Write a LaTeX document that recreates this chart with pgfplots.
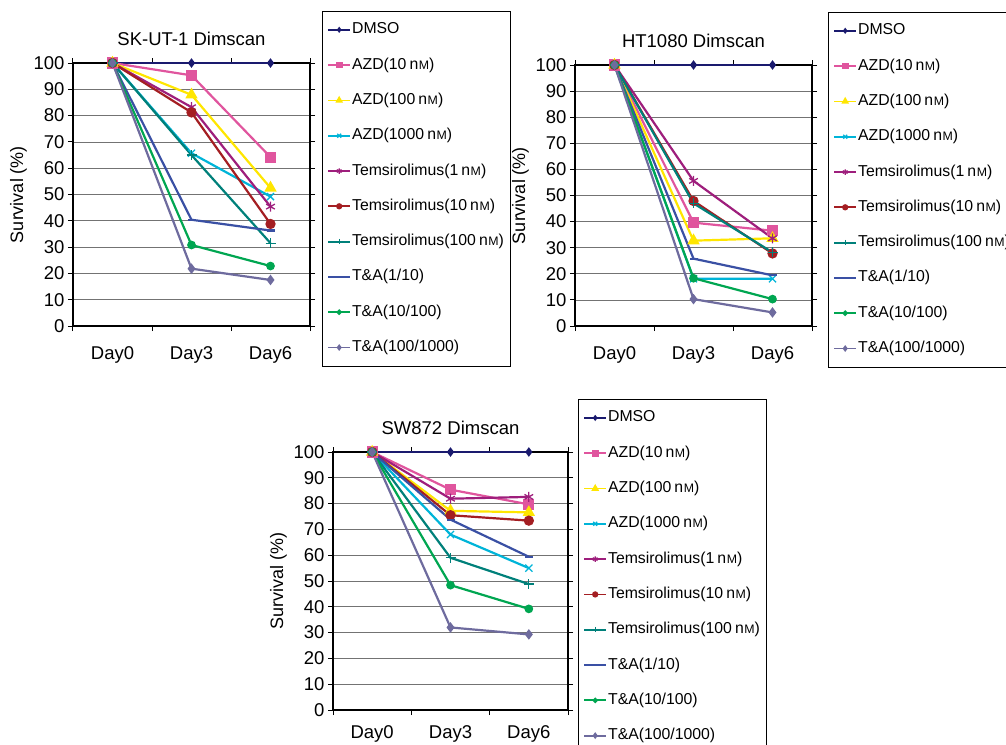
\documentclass[border=0pt]{standalone}
\usepackage{fontspec}
\setmainfont{Liberation Sans}
\usepackage{pgfplots}
\pgfplotsset{compat=1.18}
\usepackage{pgfplotstable}

\definecolor{cDMSO}{HTML}{1A1A6E}
\definecolor{cAZDa}{HTML}{E0559E}
\definecolor{cAZDb}{HTML}{FFE600}
\definecolor{cAZDc}{HTML}{00B4D8}
\definecolor{cTa}{HTML}{9E1E7C}
\definecolor{cTb}{HTML}{A41E22}
\definecolor{cTc}{HTML}{00807A}
\definecolor{cTAa}{HTML}{3A50A4}
\definecolor{cTAb}{HTML}{00A651}
\definecolor{cTAc}{HTML}{6E6B9E}

\newcommand\nM{\kern0.2em n\kern0.03em\scalebox{0.78}{M}}

% survival (%) at Day0, Day3, Day6
\pgfplotstableread{
x   DMSO AZDa AZDb AZDc Ta   Tb   Tc   TAa  TAb  TAc
0.5 100  100  100  100  100  100  100  100  100  100
1.5 100  95.3 87.9 65.7 83.2 81.2 65.0 40.4 30.8 21.8
2.5 100  64.2 52.5 49.2 45.4 38.8 31.5 36.3 22.8 17.5
}\skut
\pgfplotstableread{
x   DMSO AZDa AZDb AZDc Ta   Tb   Tc   TAa  TAb  TAc
0.5 100  100  100  100  100  100  100  100  100  100
1.5 100  39.6 32.7 18.1 55.6 47.9 47.0 25.8 18.3 10.3
2.5 100  36.5 33.6 18.1 33.6 27.8 28.2 19.4 10.3 5.2
}\htten
\pgfplotstableread{
x   DMSO AZDa AZDb AZDc Ta   Tb   Tc   TAa  TAb  TAc
0.5 100  100  100  100  100  100  100  100  100  100
1.5 100  85.4 77.2 68.0 81.9 75.5 59.0 73.8 48.4 32.0
2.5 100  79.7 76.6 55.0 82.6 73.4 48.8 59.4 39.2 29.3
}\swtab

\pgfplotsset{
  panel/.style={
    scale only axis,
    xmin=0, xmax=3, ymin=0, ymax=100,
    xtick={0.5,1.5,2.5}, xticklabels={Day0,Day3,Day6},
    minor xtick={0,1,2,3},
    major x tick style={draw=none},
    ytick={0,10,...,100},
    tick align=outside, major tick length=5pt, minor tick length=5pt,
    tick style={black, line width=1pt},
    ymajorgrids, grid style={black!55, line width=0.8pt},
    axis line style={line width=1.3pt},
    ylabel={Survival (\%)},
    /pgf/number format/assume math mode=true,
    tick label style={font=\fontsize{18.5}{20}\selectfont},
    label style={font=\fontsize{18}{20}\selectfont},
    title style={font=\fontsize{18.5}{20}\selectfont, yshift=8pt},
    clip=false,
    legend cell align=left,
    legend style={draw=black, line width=0.6pt, anchor=north west,
      font=\fontsize{15.8}{18}\selectfont,
      inner xsep=5pt, inner ysep=10pt, row sep=18.3pt,
      nodes={inner sep=1pt, text height=11.5pt, text depth=3.5pt}},
    legend image code/.code={\draw[mark repeat=2,mark phase=2,#1,line width=1.8pt,every mark/.append style={scale=0.55}]
      plot coordinates {(0pt,0pt)(11pt,0pt)(22pt,0pt)};},
  },
  sDMSO/.style={color=cDMSO, line width=2.2pt, mark=diamond*, mark size=3pt},
  sAZDa/.style={color=cAZDa, line width=2.2pt, mark=square*, mark size=4.5pt},
  sAZDb/.style={color=cAZDb, line width=2.2pt, mark=triangle*, mark size=5pt},
  sAZDc/.style={color=cAZDc, line width=2.2pt, mark=x, mark size=5pt, mark options={line width=1.3pt}},
  sTa/.style={color=cTa, line width=2.2pt, mark=asterisk, mark size=5pt, mark options={line width=1.3pt}},
  sTb/.style={color=cTb, line width=2.2pt, mark=*, mark size=4pt},
  sTc/.style={color=cTc, line width=2.2pt, mark=+, mark size=5pt, mark options={line width=1.3pt}},
  sTAa/.style={color=cTAa, line width=2.2pt, mark=-, mark size=4pt},
  sTAb/.style={color=cTAb, line width=2.2pt, mark=*, mark size=3.2pt},
  sTAc/.style={color=cTAc, line width=2.2pt, mark=diamond*, mark size=3.5pt},
}

\newcommand\allplots[1]{%
  \addplot[sDMSO] table[x=x,y=DMSO]{#1}; \addlegendentry{DMSO}
  \addplot[sAZDa] table[x=x,y=AZDa]{#1}; \addlegendentry{AZD(10\nM)}
  \addplot[sAZDb] table[x=x,y=AZDb]{#1}; \addlegendentry{AZD(100\nM)}
  \addplot[sAZDc] table[x=x,y=AZDc]{#1}; \addlegendentry{AZD(1000\nM)}
  \addplot[sTa] table[x=x,y=Ta]{#1}; \addlegendentry{Temsirolimus(1\nM)}
  \addplot[sTb] table[x=x,y=Tb]{#1}; \addlegendentry{Temsirolimus(10\nM)}
  \addplot[sTc] table[x=x,y=Tc]{#1}; \addlegendentry{Temsirolimus(100\nM)}
  \addplot[sTAa] table[x=x,y=TAa]{#1}; \addlegendentry{T\&A(1/10)}
  \addplot[sTAb] table[x=x,y=TAb]{#1}; \addlegendentry{T\&A(10/100)}
  \addplot[sTAc] table[x=x,y=TAc]{#1}; \addlegendentry{T\&A(100/1000)}
}

\begin{document}
\begin{tikzpicture}
\useasboundingbox (0,0) rectangle (1006pt,-744pt);

\begin{axis}[panel, at={(73pt,-63pt)}, anchor=north west,
  width=237pt, height=263pt, title={SK-UT-1 Dimscan},
  xticklabel style={yshift=-12pt},
  legend style={at={(1.0506,1.1977)}}]
\allplots{\skut}
\end{axis}

\begin{axis}[panel, at={(575pt,-65pt)}, anchor=north west,
  width=237pt, height=261pt, title={HT1080 Dimscan},
  xticklabel style={yshift=-12pt},
  legend style={at={(1.0675,1.203)}}]
\allplots{\htten}
\end{axis}

\begin{axis}[panel, at={(333pt,-452pt)}, anchor=north west,
  width=235pt, height=258pt, title={SW872 Dimscan},
  xticklabel style={yshift=-7pt},
  legend style={at={(1.0426,1.205)}}]
\allplots{\swtab}
\end{axis}
\end{tikzpicture}
\end{document}
